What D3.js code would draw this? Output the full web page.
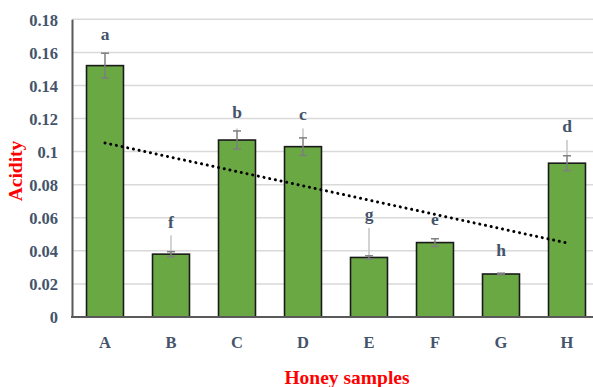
<!DOCTYPE html>
<html>
<head>
<meta charset="utf-8">
<script src="https://cdn.jsdelivr.net/npm/d3@7"></script>
<style>
  html, body { margin: 0; padding: 0; background: #fff; }
  svg { display: block; }
</style>
</head>
<body>
<svg id="chart" width="593" height="387"></svg>
<script>
// Honey acidity by sample, with error bars and significance letters
const categories = ["A", "B", "C", "D", "E", "F", "G", "H"];
const acidity    = [0.152, 0.038, 0.107, 0.103, 0.036, 0.045, 0.026, 0.093];
const errors     = [0.0075, 0.0015, 0.0055, 0.0053, 0.001, 0.0023, 0.0005, 0.0045];
// upper whisker reach drawn in light grey above the caps
const upperReach = [0.160, 0.0495, 0.114, 0.114, 0.0538, 0.047, 0.0265, 0.107];
const letters    = ["a", "f", "b", "c", "g", "e", "h", "d"];
// level (in acidity units) at which each letter sits
const letterAt   = [0.1677, 0.0541, 0.1205, 0.1193, 0.0586, 0.0559, 0.0369, 0.1121];
const yTicks     = [0, 0.02, 0.04, 0.06, 0.08, 0.1, 0.12, 0.14, 0.16, 0.18];

const svg = d3.select("#chart");
const margin = { left: 72, top: 19.3, bottom: 317 };
const plotRight = 600;

const x = d3.scaleBand().domain(categories).range([margin.left, plotRight])
  .paddingInner(0.44).paddingOuter(0.22);
const y = d3.scaleLinear().domain([0, 0.18]).range([margin.bottom, margin.top]);

const serif = "'Liberation Serif', 'Times New Roman', serif";
const tickColor = "#44546a";

// gridlines
svg.append("g").selectAll("line").data(yTicks.filter(d => d > 0)).join("line")
  .attr("x1", margin.left).attr("x2", 593)
  .attr("y1", d => y(d)).attr("y2", d => y(d))
  .attr("stroke", "#d9d9d9").attr("stroke-width", 1.5);

// y axis
const yAxis = svg.append("g").attr("transform", `translate(${margin.left},0)`)
  .call(d3.axisLeft(y).tickValues(yTicks).tickSize(0).tickPadding(14)
    .tickFormat(d => d3.format("")(+d.toFixed(2))));
yAxis.select(".domain").attr("stroke", "#595959").attr("stroke-width", 2);
yAxis.selectAll("text").attr("font-family", serif).attr("font-weight", "bold")
  .attr("font-size", 16.5).attr("fill", tickColor).attr("dy", "0.35em");

// bars
svg.append("g").selectAll("rect").data(categories).join("rect")
  .attr("x", d => x(d)).attr("width", x.bandwidth())
  .attr("y", (d, i) => y(acidity[i]))
  .attr("height", (d, i) => y(0) - y(acidity[i]))
  .attr("fill", "#6aa843").attr("stroke", "#1a1a1a").attr("stroke-width", 1.6);

// x axis
const xAxis = svg.append("g").attr("transform", `translate(0,${margin.bottom})`)
  .call(d3.axisBottom(x).tickSize(0).tickPadding(19));
xAxis.select(".domain").remove();
svg.append("line").attr("x1", margin.left - 1).attr("x2", 593)
  .attr("y1", margin.bottom).attr("y2", margin.bottom)
  .attr("stroke", "#595959").attr("stroke-width", 2);
xAxis.selectAll("text").attr("font-family", serif).attr("font-weight", "bold")
  .attr("font-size", 16.5).attr("fill", tickColor);

// error bars
const cx = d => x(d) + x.bandwidth() / 2;
const eb = svg.append("g");
eb.selectAll("line.reach").data(categories).join("line").attr("class", "reach")
  .attr("x1", cx).attr("x2", cx)
  .attr("y1", (d, i) => y(upperReach[i]))
  .attr("y2", (d, i) => y(acidity[i] + errors[i]))
  .attr("stroke", "#c4c4c4").attr("stroke-width", 1.5);
eb.selectAll("line.stem").data(categories).join("line").attr("class", "stem")
  .attr("x1", cx).attr("x2", cx)
  .attr("y1", (d, i) => y(acidity[i] + errors[i]))
  .attr("y2", (d, i) => y(acidity[i] - errors[i]))
  .attr("stroke", "#7f7f7f").attr("stroke-width", 1.5);
[1, -1].forEach(s => {
  eb.append("g").selectAll("line").data(categories).join("line")
    .attr("x1", d => cx(d) - 4).attr("x2", d => cx(d) + 4)
    .attr("y1", (d, i) => y(acidity[i] + s * errors[i]))
    .attr("y2", (d, i) => y(acidity[i] + s * errors[i]))
    .attr("stroke", "#7f7f7f").attr("stroke-width", 1.5);
});

// linear trend line through the bar values
const n = acidity.length;
const xs = d3.range(1, n + 1);
const mx = d3.mean(xs), my = d3.mean(acidity);
const slope = d3.sum(xs, (v, i) => (v - mx) * (acidity[i] - my)) / d3.sum(xs, v => (v - mx) ** 2);
const fit = v => my + slope * (v - mx);
svg.append("line")
  .attr("x1", cx(categories[0])).attr("y1", y(fit(1)))
  .attr("x2", cx(categories[n - 1])).attr("y2", y(fit(n)))
  .attr("stroke", "#000").attr("stroke-width", 3)
  .attr("stroke-linecap", "round").attr("stroke-dasharray", "0.01 5.8");

// significance letters
svg.append("g").selectAll("text").data(categories).join("text")
  .attr("x", cx)
  .attr("y", (d, i) => y(letterAt[i]))
  .attr("text-anchor", "middle")
  .attr("font-family", serif).attr("font-weight", "bold").attr("font-size", 17.5)
  .attr("fill", tickColor)
  .text((d, i) => letters[i]);

// axis titles
svg.append("text").attr("x", 347).attr("y", 384)
  .attr("text-anchor", "middle").attr("font-family", serif).attr("font-weight", "bold")
  .attr("font-size", 19.5).attr("fill", "#ff0000").text("Honey samples");
svg.append("text").attr("transform", "translate(22,171) rotate(-90)")
  .attr("text-anchor", "middle").attr("font-family", serif).attr("font-weight", "bold")
  .attr("font-size", 19.5).attr("fill", "#ff0000").text("Acidity");
</script>
</body>
</html>
